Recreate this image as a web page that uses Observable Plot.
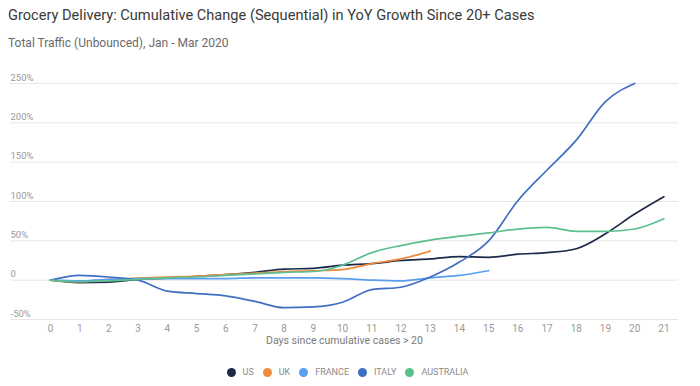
<!DOCTYPE html>
<html>
<head>
<meta charset="utf-8">
<script src="https://cdn.jsdelivr.net/npm/d3@7"></script>
<script src="https://cdn.jsdelivr.net/npm/@observablehq/plot@0.6"></script>
<style>
  html, body { margin: 0; padding: 0; background: #fff; width: 700px; height: 386px; overflow: hidden; font-family: Roboto, "Noto Sans", sans-serif; }
  #header { height: 60px; position: relative; }
  #title { position: absolute; left: 8px; top: 6px; font-size: 14.6px; color: #3a3a3a; white-space: nowrap; }
  #subtitle { position: absolute; left: 8px; top: 36px; font-size: 12px; color: #6a6a6a; white-space: nowrap; }
  #chart { height: 300px; }
  #legend { display: flex; justify-content: center; align-items: center; height: 24px; margin-left: -5px; font-size: 9px; color: #8a8a8a; }
  .item { display: flex; align-items: center; margin: 0 4.5px; }
  .dot { width: 9px; height: 9px; border-radius: 50%; margin-right: 7px; }
</style>
</head>
<body>
<div id="header">
  <div id="title">Grocery Delivery: Cumulative Change (Sequential) in YoY Growth Since 20+ Cases</div>
  <div id="subtitle">Total Traffic (Unbounced), Jan - Mar 2020</div>
</div>
<div id="chart"></div>
<div id="legend"></div>
<script>
const seriesNames = ["US", "UK", "FRANCE", "ITALY", "AUSTRALIA"];
const seriesColors = ["#1c2a48", "#ee8a3c", "#5a9ef0", "#3f6fc2", "#5dbf8f"];
const days = [0,1,2,3,4,5,6,7,8,9,10,11,12,13,14,15,16,17,18,19,20,21];
const us        = [0,-3,-2.5,1,2.5,5,7,10,14,15,19,21,25,27,30,29,33,35,40,59,84,106];
const uk        = [0,-2,1,2.5,4,5,7,9,11,12,13.5,21,27,37];
const france    = [0,-1,1,2,2,2,2,3,3,3,2,0,-1,3,6,12];
const italy     = [0,6,4,0,-14,-17,-20,-27,-35,-34,-28,-12,-9,4,23,50,101,140,178,227,250];
const australia = [0,-2,-1,1,3,4,6,8,10,11,19,35,44,51,56,60,65,67,62,62,65,78];
const yTicks = [-50, 0, 50, 100, 150, 200, 250];
const yTickLabels = ["-50%", "0", "50%", "100%", "150%", "200%", "250%"];
const xLabel = "Days since cumulative cases > 20";

const allSeries = [us, uk, france, italy, australia];
const rows = [];
allSeries.forEach((vals, i) => {
  vals.forEach((v, j) => rows.push({series: seriesNames[i], day: days[j], value: v}));
});

const chart = Plot.plot({
  width: 700,
  height: 300,
  marginLeft: 10,
  marginRight: 22,
  marginTop: 23,
  marginBottom: 41,
  style: {fontFamily: "Roboto, sans-serif", background: "#fff"},
  x: {domain: [-1.37, 21.5], ticks: days, label: null},
  y: {domain: [-50, 250], ticks: yTicks, label: null},
  color: {domain: seriesNames, range: seriesColors},
  marks: [
    Plot.ruleY(yTicks, {stroke: "#e6e6e6", strokeWidth: 1}),
    Plot.axisY(yTicks, {anchor: "left", tickSize: 0, tickPadding: 0, textAnchor: "start", dx: 0, dy: -6, tickFormat: (d) => yTickLabels[yTicks.indexOf(d)], fill: "#9a9a9a", fontSize: 9.5, label: null}),
    Plot.axisX(days, {anchor: "bottom", tickSize: 0, tickPadding: 5, fill: "#9a9a9a", fontSize: 10, label: null}),
    Plot.text([xLabel], {frameAnchor: "bottom", dy: 24, text: (d) => d, fill: "#7a7a7a", fontSize: 10.5}),
    Plot.line(rows, {x: "day", y: "value", z: "series", stroke: "series", strokeWidth: 1.7, curve: "monotone-x"})
  ]
});
document.getElementById("chart").appendChild(chart);

const legend = document.getElementById("legend");
seriesNames.forEach((name, i) => {
  const item = document.createElement("div");
  item.className = "item";
  const dot = document.createElement("span");
  dot.className = "dot";
  dot.style.background = seriesColors[i];
  const label = document.createElement("span");
  label.textContent = name;
  item.appendChild(dot);
  item.appendChild(label);
  legend.appendChild(item);
});
</script>
</body>
</html>
